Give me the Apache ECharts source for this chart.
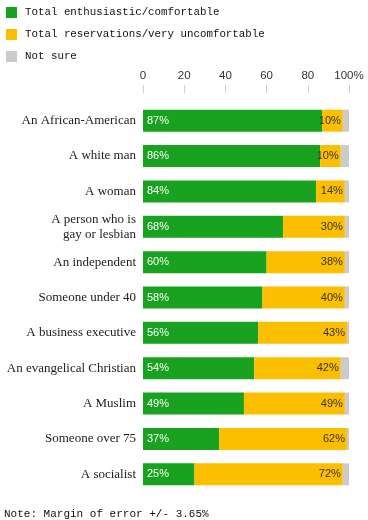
<!DOCTYPE html>
<html>
<head>
<meta charset="utf-8">
<script src="https://cdn.jsdelivr.net/npm/echarts@6/dist/echarts.min.js"></script>
<style>
html,body{margin:0;padding:0;background:#fff;}
#c{width:368px;height:520px;}
</style>
</head>
<body>
<div id="c"></div>
<script>
const categories = ["An African-American","A white man","A woman","A person who is\ngay or lesbian","An independent","Someone under 40","A business executive","An evangelical Christian","A Muslim","Someone over 75","A socialist"];
const comfortable = [87,86,84,68,60,58,56,54,49,37,25];
const reservations = [10,10,14,30,38,40,43,42,49,62,72];
const notSure = [3,4,2,2,2,2,1,4,2,1,3];
const tickLabels = ["0","20","40","60","80","100%"];
const seriesNames = ["Total enthusiastic/comfortable","Total reservations/very uncomfortable","Not sure"];

const chart = echarts.init(document.getElementById('c'), null, {renderer:'canvas'});
const mono = "'Liberation Mono', 'DejaVu Sans Mono', monospace";
const sans = "'Liberation Sans', Arial, sans-serif";
chart.setOption({
  animation:false,
  legend:{
    orient:'vertical', left:1, top:2, itemWidth:11, itemHeight:11, itemGap:11,
    icon:'rect',
    textStyle:{fontFamily:mono, fontSize:10.8, color:'#111', padding:[0,0,0,3]},
    data:seriesNames
  },
  grid:{left:143, right:19, top:103, bottom:28, containLabel:false, outerBoundsMode:'none'},
  xAxis:{
    type:'value', position:'top', min:0, max:100, interval:20, offset:10,
    axisLine:{show:false},
    axisTick:{show:true, length:8, lineStyle:{color:'#d0d0d0'}},
    splitLine:{show:false},
    axisLabel:{margin:11, fontFamily:sans, fontSize:11.5, color:'#333',
      formatter:(v)=>tickLabels[Math.round(v/20)]}
  },
  yAxis:{
    type:'category', inverse:true, data:categories,
    axisLine:{show:false}, axisTick:{show:false},
    axisLabel:{margin:7, fontFamily:"'Liberation Serif', 'DejaVu Serif', serif", fontSize:13, color:'#222', lineHeight:15}
  },
  series:[
    {name:seriesNames[0], type:'bar', stack:'s', barWidth:22, data:comfortable,
     itemStyle:{color:'#19a21f'},
     label:{show:true, position:'insideLeft', offset:[-1,0], formatter:'{c}%', color:'#fff', fontFamily:sans, fontSize:11}},
    {name:seriesNames[1], type:'bar', stack:'s', barWidth:22, data:reservations,
     itemStyle:{color:'#fcbf00'},
     label:{show:true, position:'insideRight', offset:[3,0], formatter:'{c}%', color:'#333', fontFamily:sans, fontSize:11}},
    {name:seriesNames[2], type:'bar', stack:'s', barWidth:22, data:notSure,
     itemStyle:{color:'#cbcbcb'}}
  ],
  graphic:[{type:'text', left:4, top:509, style:{text:'Note: Margin of error +/- 3.65%', font:"11px "+mono, fill:'#111'}}]
});
</script>
</body>
</html>
